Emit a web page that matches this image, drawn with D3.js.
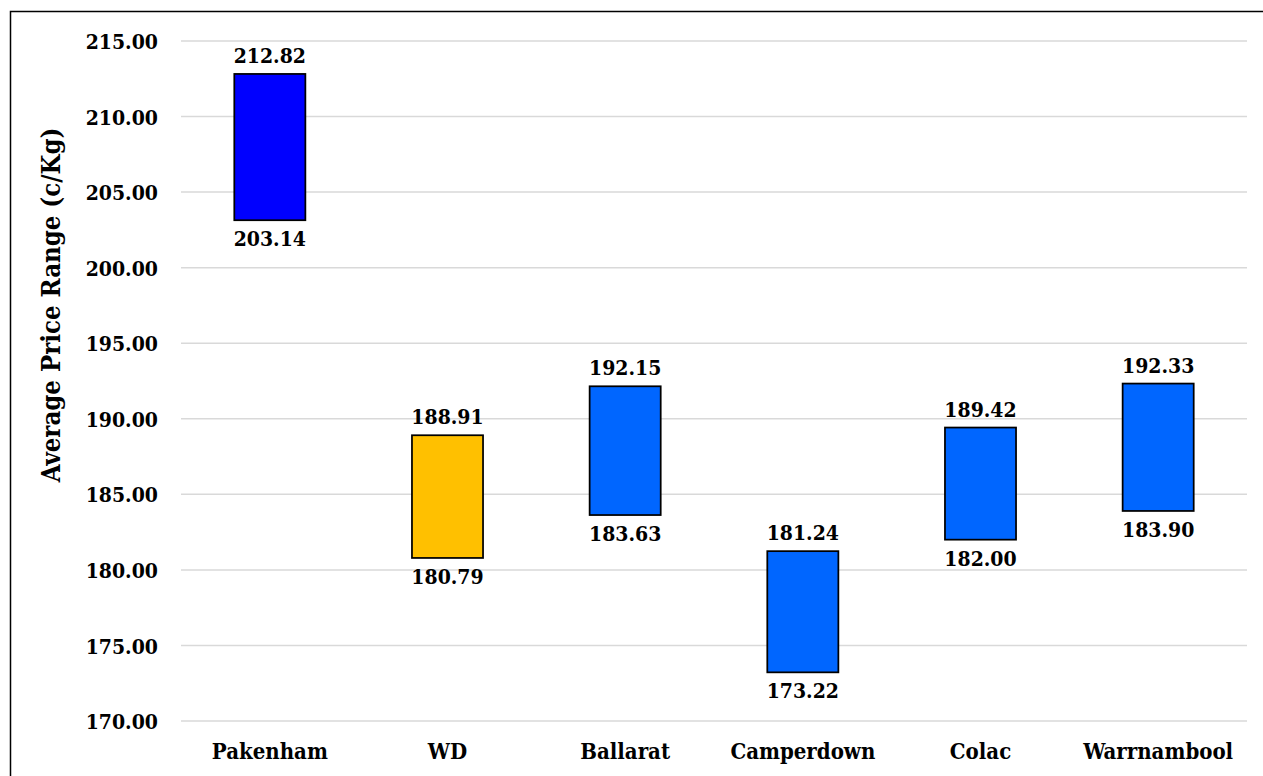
<!DOCTYPE html>
<html>
<head>
<meta charset="utf-8">
<script src="https://cdn.jsdelivr.net/npm/d3@7"></script>
<style>
  html, body { margin: 0; padding: 0; background: #fff; }
  svg { display: block; }
  text { font-family: "DejaVu Serif Condensed", "DejaVu Serif", serif; font-weight: bold; fill: #000; }
</style>
</head>
<body>
<svg id="chart" width="1263" height="776"></svg>
<script>
// Saleyard price ranges (c/Kg): low and high average for each market
const markets = ["Pakenham", "WD", "Ballarat", "Camperdown", "Colac", "Warrnambool"];
const lowValues = [203.14, 180.79, 183.63, 173.22, 182.00, 183.90];
const highValues = [212.82, 188.91, 192.15, 181.24, 189.42, 192.33];
const barColors = ["#0000FF", "#FFC000", "#0066FF", "#0066FF", "#0066FF", "#0066FF"];
const yTicks = [170, 175, 180, 185, 190, 195, 200, 205, 210, 215];
const yTitle = "Average Price Range (c/Kg)";

const FONT = "\"DejaVu Serif Condensed\", \"DejaVu Serif\", serif";
const svg = d3.select("#chart");
const W = 1263, H = 776;
const plot = { left: 181, right: 1247, top: 41, bottom: 721 };

// outer frame
svg.append("rect")
  .attr("x", 10.5).attr("y", 11.5)
  .attr("width", W + 20).attr("height", H + 20)
  .attr("fill", "none").attr("stroke", "#000").attr("stroke-width", 1.5);

const x = d3.scaleBand()
  .domain(markets)
  .range([plot.left, plot.right])
  .paddingInner(0.6)
  .paddingOuter(0.3);

const y = d3.scaleLinear()
  .domain([170, 215])
  .range([plot.bottom, plot.top]);

// gridlines
svg.append("g")
  .selectAll("line")
  .data(yTicks)
  .join("line")
  .attr("x1", plot.left).attr("x2", plot.right)
  .attr("y1", d => y(d)).attr("y2", d => y(d))
  .attr("stroke", "#d9d9d9").attr("stroke-width", 1.5);

// y axis labels
const yAxis = d3.axisLeft(y).tickValues(yTicks).tickFormat(d3.format(".2f")).tickSize(0).tickPadding(23);
const yG = svg.append("g").attr("transform", `translate(${plot.left},0)`).call(yAxis);
yG.select(".domain").remove();
yG.selectAll("text")
  .attr("font-family", FONT).attr("font-weight", "bold")
  .attr("font-size", 21).attr("dy", "0.36em").attr("fill", "#000");

// x axis labels
const xAxis = d3.axisBottom(x).tickSize(0).tickPadding(0);
const xG = svg.append("g").attr("transform", `translate(0,${plot.bottom})`).call(xAxis);
xG.select(".domain").remove();
xG.selectAll("text")
  .attr("font-family", FONT).attr("font-weight", "bold")
  .attr("font-size", 22).attr("y", 38).attr("dy", 0).attr("fill", "#000");

// y axis title
svg.append("text")
  .attr("transform", "translate(60,305) rotate(-90)")
  .attr("text-anchor", "middle")
  .attr("font-size", 25.5)
  .text(yTitle);

const rows = markets.map((m, i) => ({ m, lo: lowValues[i], hi: highValues[i], c: barColors[i] }));

// floating bars
svg.append("g")
  .selectAll("rect")
  .data(rows)
  .join("rect")
  .attr("x", d => x(d.m))
  .attr("width", x.bandwidth())
  .attr("y", d => y(d.hi))
  .attr("height", d => y(d.lo) - y(d.hi))
  .attr("fill", d => d.c)
  .attr("stroke", "#000").attr("stroke-width", 1.75);

// value labels
const labels = svg.append("g").attr("text-anchor", "middle").attr("font-size", 21);
labels.selectAll("text.hi")
  .data(rows).join("text").attr("class", "hi")
  .attr("x", d => x(d.m) + x.bandwidth() / 2)
  .attr("y", d => y(d.hi) - 11)
  .text(d => d.hi.toFixed(2));
labels.selectAll("text.lo")
  .data(rows).join("text").attr("class", "lo")
  .attr("x", d => x(d.m) + x.bandwidth() / 2)
  .attr("y", d => y(d.lo) + 26)
  .text(d => d.lo.toFixed(2));
</script>
</body>
</html>
